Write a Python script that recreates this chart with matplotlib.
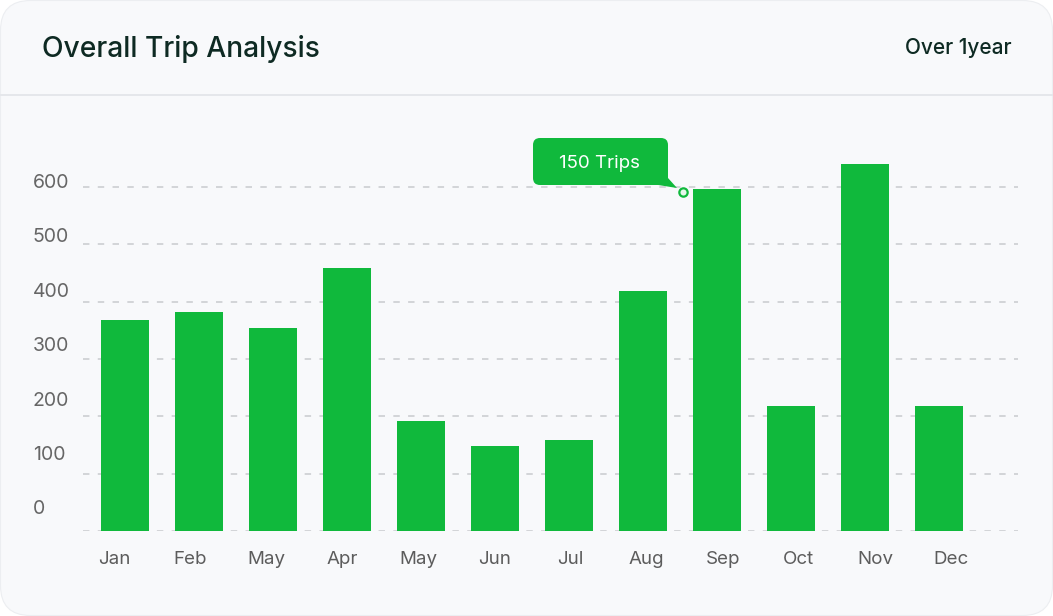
import matplotlib.pyplot as plt
import matplotlib.transforms as mtransforms
from matplotlib.patches import FancyBboxPatch, Polygon

plt.rcParams['font.family'] = ['Inter', 'DejaVu Sans']

# data
months = ["Jan", "Feb", "May", "Apr", "May", "Jun", "Jul", "Aug", "Sep", "Oct", "Nov", "Dec"]
trips = [368, 382, 354, 459, 192, 148, 159, 419, 597, 218, 640, 218]
y_ticks = [0, 100, 200, 300, 400, 500, 600]
tip_text = "150 Trips"
tip_point = (7.54, 591)  # where the tooltip points to

GREEN = "#10b93c"
W, H = 1053, 616

fig = plt.figure(figsize=(W / 100, H / 100), dpi=100, facecolor="white")

# background axes in pixel units (y down)
bg = fig.add_axes([0, 0, 1, 1])
bg.set_xlim(0, W)
bg.set_ylim(H, 0)
bg.axis("off")
card = FancyBboxPatch((0.5, 0.5), W - 1, H - 1, boxstyle="round,pad=0,rounding_size=30",
                      fc="#f8f9fb", ec="#eceef1", lw=0.8)
bg.add_patch(card)
bg.plot([1, W - 1], [95, 95], color="#e4e6ea", lw=1.3)
bg.text(42, 49, "Overall Trip Analysis", fontsize=20.3, color="#0e2a23",
        fontweight="medium", va="center", ha="left")
bg.text(1012, 47.5, "Over 1year", fontsize=15, color="#0e2a23",
        fontweight="medium", va="center", ha="right")

# chart axes
left, right, bottom, top = 83, 1018, 531, 130
ax = fig.add_axes([left / W, (H - bottom) / H, (right - left) / W, (bottom - top) / H])
ax.patch.set_alpha(0)
px_per_bar = 74
xmin = -(125 - left) / px_per_bar
ax.set_xlim(xmin, xmin + (right - left) / px_per_bar)
ax.set_ylim(0, (bottom - top) / (344 / 600))
for s in ax.spines.values():
    s.set_visible(False)

for v in y_ticks:
    ax.axhline(v, color="#d2d4d8", lw=1.4, ls=(0, (3.3, 4.3)), zorder=1)

x = list(range(len(months)))
ax.bar(x, trips, width=48 / px_per_bar, color=GREEN, zorder=2)

# tick labels (offset from the grid as in the design)
ax.set_yticks([])
ax.set_xticks([])
ylab_tr = mtransforms.blended_transform_factory(bg.transData, ax.transData)
for v in y_ticks:
    ax.text(33, 38 + v * 0.948, str(v), transform=ylab_tr, fontsize=14,
            color="#666666", ha="left", va="center", clip_on=False)
xlab_tr = mtransforms.blended_transform_factory(ax.transData, bg.transData)
for i, m in enumerate(months):
    ax.text(-0.149 + 1.0284 * i, 559, m, transform=xlab_tr,
            fontsize=13.5, color="#5c5c5c", ha="center", va="center", clip_on=False)

# tooltip
bub = FancyBboxPatch((533, 138), 135, 47, boxstyle="round,pad=0,rounding_size=7",
                     fc=GREEN, ec="none", transform=bg.transData, clip_on=False, zorder=5)
ax.add_patch(bub)
tail = Polygon([(652, 184), (668, 178), (677, 188)], closed=True, fc=GREEN, ec="none",
               transform=bg.transData, clip_on=False, zorder=5)
ax.add_patch(tail)
ax.text(599.5, 164, tip_text, transform=bg.transData, fontsize=13.5, color="white",
        ha="center", va="center", zorder=6, clip_on=False)
ax.plot([tip_point[0]], [tip_point[1]], marker="o", ms=6, mfc="#e8f8ec", mec=GREEN,
        mew=1.6, zorder=6, clip_on=False)

fig.savefig("out.png", dpi=100, facecolor="white")
